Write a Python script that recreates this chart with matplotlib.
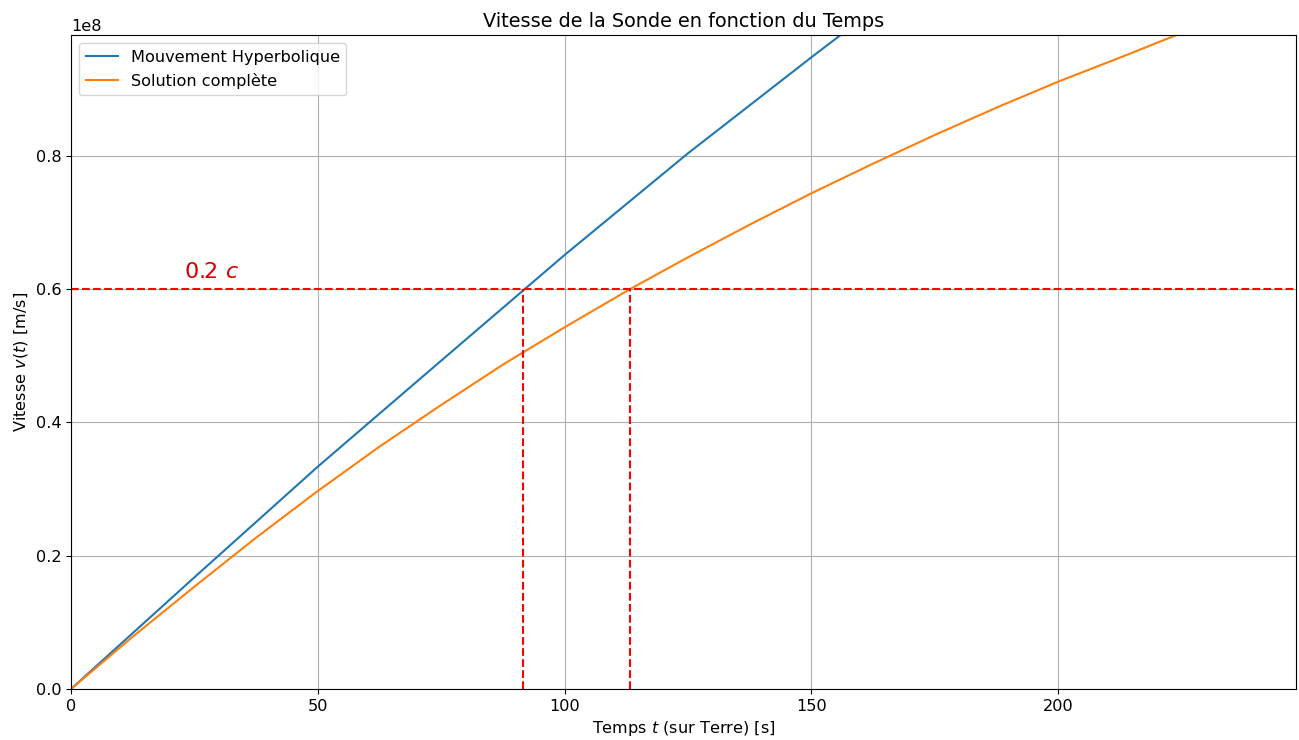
import numpy as np
import matplotlib.pyplot as plt

plt.rcParams['font.size'] = 11.6

# values (t in s, v in m/s, scale 1e8)
t_hyp = [0, 25, 50, 75, 100, 125, 150, 160]
v_hyp = [0, 0.1675, 0.3335, 0.4925, 0.651, 0.8035, 0.9475, 1.004]

t_full = [0, 12.5, 25, 37.5, 50, 62.5, 75, 87.5, 100, 113.3, 125, 137.5,
          150, 162.5, 175, 187.5, 200, 212.5, 224, 236, 248.2]
v_full = [0, 0.0784, 0.1535, 0.227, 0.297, 0.3635, 0.426, 0.4865, 0.5425, 0.6,
          0.6475, 0.6965, 0.7435, 0.788, 0.831, 0.872, 0.911, 0.947, 0.981,
          1.012, 1.04]

v_target = 0.6e8
t_hyp_cross = 91.65
t_full_cross = 113.3

fig = plt.figure(figsize=(12.99, 7.4), dpi=100)
ax = fig.add_axes([0.0547, 0.069, 0.943, 0.8837])

ax.plot(t_hyp, np.array(v_hyp) * 1e8, label='Mouvement Hyperbolique')
ax.plot(t_full, np.array(v_full) * 1e8, label='Solution complète')

ax.axhline(v_target, color='red', linestyle='--')
ax.plot([t_hyp_cross, t_hyp_cross], [0, v_target], 'r--')
ax.plot([t_full_cross, t_full_cross], [0, v_target], 'r--')
ax.text(22.9, 0.616e8, '0.2 $c$', color='#d40000', fontsize=16)

ax.set_xlim(0, 248.2)
ax.set_ylim(0, 0.981e8)
ax.ticklabel_format(axis='y', style='sci', scilimits=(8, 8))
ax.set_yticks([0, 0.2e8, 0.4e8, 0.6e8, 0.8e8])
ax.set_title('Vitesse de la Sonde en fonction du Temps', fontsize=13.9)
ax.set_xlabel('Temps $t$ (sur Terre) [s]')
ax.set_ylabel('Vitesse $v(t)$ [m/s]')
ax.grid(True)
ax.legend(loc='upper left')

plt.savefig('out.png')
